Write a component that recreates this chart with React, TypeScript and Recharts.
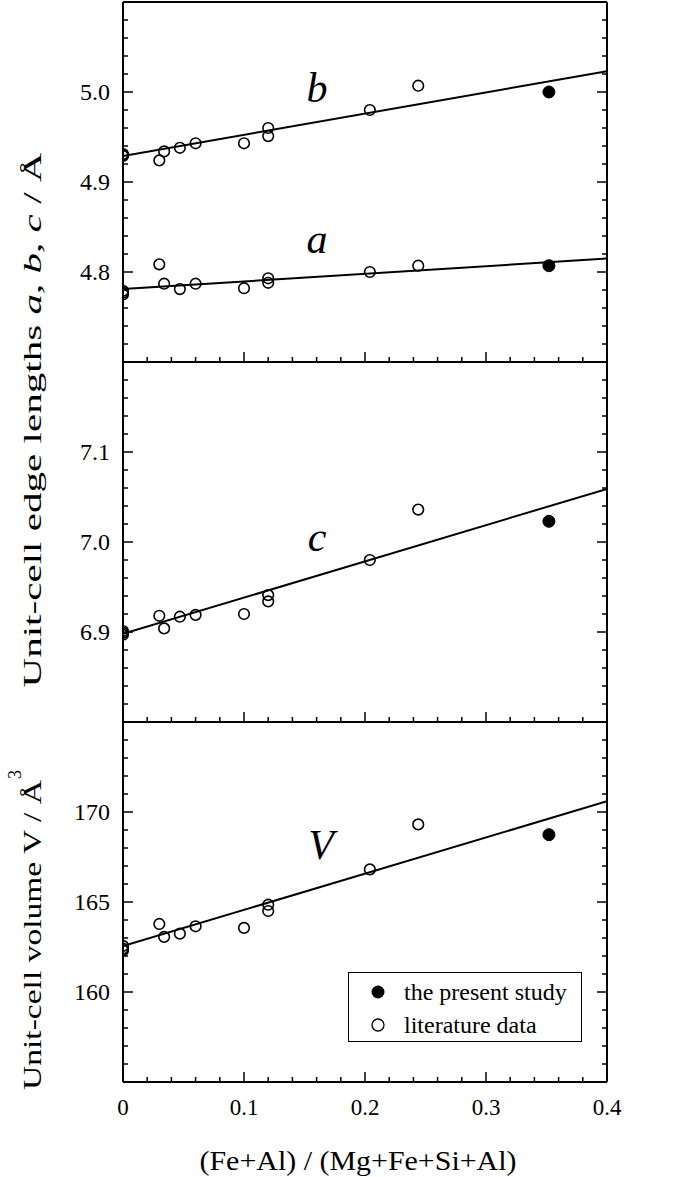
import React from "react";
import { ComposedChart, Scatter, Line, XAxis, YAxis, Legend } from "recharts";

const FONT = "'Liberation Serif', 'Times New Roman', serif";

// (Fe+Al) / (Mg+Fe+Si+Al) of the literature samples
const litX = [0, 0, 0, 0.03, 0.034, 0.047, 0.06, 0.1, 0.12, 0.12, 0.204, 0.244];
const litA = [4.775, 4.777, 4.779, 4.8085, 4.787, 4.781, 4.787, 4.782, 4.793, 4.788, 4.8, 4.807];
const litB = [4.929, 4.93, 4.931, 4.924, 4.934, 4.938, 4.943, 4.943, 4.96, 4.951, 4.98, 5.007];
const litC = [6.897, 6.899, 6.901, 6.918, 6.904, 6.917, 6.919, 6.92, 6.941, 6.934, 6.98, 7.036];
const litV = [162.31, 162.41, 162.56, 163.78, 163.06, 163.24, 163.65, 163.56, 164.85, 164.5, 166.81, 169.31];

// the present study
const presentX = [0.352];
const presentA = [4.807];
const presentB = [5.0];
const presentC = [7.023];
const presentV = [168.74];

// linear fits (end points)
const fitX = [0, 0.4];
const fitA = [4.781, 4.815];
const fitB = [4.929, 5.023];
const fitC = [6.898, 7.059];
const fitV = [162.55, 170.6];

// ticks
const xMajor = [0, 0.1, 0.2, 0.3, 0.4];
const xMinor = [0.02, 0.04, 0.06, 0.08, 0.12, 0.14, 0.16, 0.18, 0.22, 0.24, 0.26, 0.28, 0.32, 0.34, 0.36, 0.38];
const abMajor = [4.8, 4.9, 5.0];
const abMinor = [4.72, 4.74, 4.76, 4.78, 4.82, 4.84, 4.86, 4.88, 4.92, 4.94, 4.96, 4.98, 5.02, 5.04, 5.06, 5.08];
const cMajor = [6.9, 7.0, 7.1];
const cMinor = [6.82, 6.84, 6.86, 6.88, 6.92, 6.94, 6.96, 6.98, 7.02, 7.04, 7.06, 7.08, 7.12, 7.14, 7.16, 7.18];
const vMajor = [160, 165, 170];
const vMinor = [156, 157, 158, 159, 161, 162, 163, 164, 166, 167, 168, 169, 171, 172, 173, 174];

const MAJOR_LEN = 10;
const MINOR_LEN = 5;

const pts = (xs: number[], ys: number[]) => xs.map((x, i) => ({ x, y: ys[i] }));

const OpenDot = (p: any) => (
  <circle cx={p.cx} cy={p.cy} r={5.3} fill="none" stroke="#000" strokeWidth={1.6} />
);
const FilledDot = (p: any) => <circle cx={p.cx} cy={p.cy} r={6} fill="#000" stroke="#000" />;

// inward-pointing tick (with optional label); tickSize/tickMargin are 0 so p.x/p.y sit on the axis line
const makeTick =
  (side: "left" | "right" | "top" | "bottom", major: number[], fmt?: (v: number) => string) =>
  (p: any) => {
    const v = p.payload.value;
    const isMajor = major.includes(v);
    const len = isMajor ? MAJOR_LEN : MINOR_LEN;
    const { x, y } = p;
    const line =
      side === "left" ? [x, y, x + len, y] :
      side === "right" ? [x, y, x - len, y] :
      side === "top" ? [x, y, x, y + len] : [x, y, x, y - len];
    return (
      <g>
        <line x1={line[0]} y1={line[1]} x2={line[2]} y2={line[3]} stroke="#000" strokeWidth={1.5} />
        {isMajor && fmt && side === "left" && (
          <text x={x - 13} y={y} dy="0.35em" textAnchor="end" fontFamily={FONT} fontSize={24} fill="#000">
            {fmt(v)}
          </text>
        )}
        {isMajor && fmt && side === "bottom" && (
          <text x={x} y={y + 33} textAnchor="middle" fontFamily={FONT} fontSize={23} fill="#000">
            {fmt(v)}
          </text>
        )}
      </g>
    );
  };

const LegendBox = ({ payload }: any) => {
  const items = (payload || [])
    .filter((e: any) => e.type !== "none")
    .sort((p: any, q: any) => (p.value === "the present study" ? -1 : q.value === "the present study" ? 1 : 0));
  return (
    <div
      style={{
        width: 234,
        height: 70,
        border: "1.5px solid #000",
        boxSizing: "border-box",
        position: "relative",
        background: "#fff",
        fontFamily: FONT,
        fontSize: 24,
      }}
    >
      {items.map((e: any, i: number) => (
        <div
          key={i}
          style={{ position: "absolute", left: 0, top: 4 + i * 33, height: 30, display: "flex", alignItems: "center", whiteSpace: "nowrap" }}
        >
          <svg width={55} height={30}>
            {e.value === "the present study" ? (
              <circle cx={29} cy={15} r={6.5} fill="#000" />
            ) : (
              <circle cx={29} cy={15} r={6} fill="none" stroke="#000" strokeWidth={1.3} />
            )}
          </svg>
          <span style={{ lineHeight: "30px" }}>{e.value}</span>
        </div>
      ))}
    </div>
  );
};

type Series = { lit: number[]; present: number[]; fit: number[] };

const xFmt = (v: number) => (v === 0 ? "0" : v.toFixed(1));

const Panel = ({
  top,
  height,
  mTop,
  mBottom,
  domain,
  major,
  minor,
  fmt,
  series,
  bottomLabels,
  legend,
}: {
  top: number;
  height: number;
  mTop: number;
  mBottom: number;
  domain: [number, number];
  major: number[];
  minor: number[];
  fmt: (v: number) => string;
  series: Series[];
  bottomLabels?: boolean;
  legend?: boolean;
}) => {
  const xTicks = [...xMajor, ...xMinor].sort((p, q) => p - q);
  const yTicks = [...major, ...minor].sort((p, q) => p - q);
  const common = {
    type: "number" as const,
    allowDataOverflow: true,
    interval: 0 as const,
    stroke: "#000",
    axisLine: { strokeWidth: 2 },
    tickLine: false,
    tickSize: 0,
    tickMargin: 0,
  };
  return (
    <div style={{ position: "absolute", left: 0, top }}>
      {/* each axis takes 1px; margins are reduced by 1px per side to compensate */}
      <ComposedChart width={685} height={height} margin={{ top: mTop - 1, right: 77, bottom: mBottom - 1, left: 122 }}>
        <XAxis {...common} xAxisId={0} dataKey="x" domain={[0, 0.4]} ticks={xTicks} height={1}
          tick={makeTick("bottom", xMajor, bottomLabels ? xFmt : undefined)} />
        <XAxis {...common} xAxisId="t" orientation="top" domain={[0, 0.4]} ticks={xTicks} height={1}
          tick={makeTick("top", xMajor)} />
        <YAxis {...common} yAxisId={0} dataKey="y" domain={domain} ticks={yTicks} width={1}
          tick={makeTick("left", major, fmt)} />
        <YAxis {...common} yAxisId="r" orientation="right" domain={domain} ticks={yTicks} width={1}
          tick={makeTick("right", major)} />
        {series.map((s, i) => (
          <Line
            key={`fit-${i}`}
            data={pts(fitX, s.fit)}
            dataKey="y"
            type="linear"
            stroke="#000"
            strokeWidth={2}
            dot={false}
            activeDot={false}
            legendType="none"
            isAnimationActive={false}
          />
        ))}
        {series.map((s, i) => (
          <Scatter
            key={`pres-${i}`}
            name="the present study"
            data={pts(presentX, s.present)}
            dataKey="y"
            fill="#000"
            shape={FilledDot}
            legendType={i === 0 ? "circle" : "none"}
            isAnimationActive={false}
          />
        ))}
        {series.map((s, i) => (
          <Scatter
            key={`lit-${i}`}
            name="literature data"
            data={pts(litX, s.lit)}
            dataKey="y"
            fill="none"
            shape={OpenDot}
            legendType={i === 0 ? "circle" : "none"}
            isAnimationActive={false}
          />
        ))}
        {legend && (
          <Legend
            layout="horizontal"
            verticalAlign="middle"
            align="center"
            content={<LegendBox />}
            wrapperStyle={{ left: 348, top: 260, width: 234, height: 70 }}
          />
        )}
      </ComposedChart>
    </div>
  );
};

const Letter = ({ x, y, t }: { x: number; y: number; t: string }) => (
  <text x={x} y={y} textAnchor="middle" fontFamily={FONT} fontStyle="italic" fontSize={42} fill="#000">
    {t}
  </text>
);

export default function App() {
  return (
    <div style={{ position: "absolute", left: 0, top: 0, width: 685, height: 1177, background: "#fff" }}>
      <Panel
        top={0}
        height={372}
        mTop={2}
        mBottom={10}
        domain={[4.7, 5.1]}
        major={abMajor}
        minor={abMinor}
        fmt={(v) => v.toFixed(1)}
        series={[
          { lit: litB, present: presentB, fit: fitB },
          { lit: litA, present: presentA, fit: fitA },
        ]}
      />
      <Panel
        top={352}
        height={380}
        mTop={10}
        mBottom={10}
        domain={[6.8, 7.2]}
        major={cMajor}
        minor={cMinor}
        fmt={(v) => v.toFixed(1)}
        series={[{ lit: litC, present: presentC, fit: fitC }]}
      />
      <Panel
        top={712}
        height={465}
        mTop={10}
        mBottom={95}
        domain={[155, 175]}
        major={vMajor}
        minor={vMinor}
        fmt={(v) => String(v)}
        series={[{ lit: litV, present: presentV, fit: fitV }]}
        bottomLabels
        legend
      />
      <svg
        width={685}
        height={1177}
        style={{ position: "absolute", left: 0, top: 0, pointerEvents: "none" }}
        fontFamily={FONT}
      >
        <Letter x={317} y={102} t="b" />
        <Letter x={317} y={253} t="a" />
        <Letter x={317} y={551} t="c" />
        <Letter x={321} y={859} t="V" />
        <text
          transform="translate(41,420) rotate(-90)"
          textAnchor="middle"
          fontSize={25}
          fill="#000"
          textLength={535}
          lengthAdjust="spacingAndGlyphs"
        >
          Unit-cell edge lengths <tspan fontStyle="italic">a</tspan>, <tspan fontStyle="italic">b</tspan>,{" "}
          <tspan fontStyle="italic">c</tspan> / Å
        </text>
        <text
          transform="translate(41,935) rotate(-90)"
          textAnchor="middle"
          fontSize={25}
          fill="#000"
          textLength={310}
          lengthAdjust="spacingAndGlyphs"
        >
          Unit-cell volume V / Å
        </text>
        <text transform="translate(21,779) rotate(-90)" fontSize={18} fill="#000">
          3
        </text>
        <text
          x={358}
          y={1170}
          textAnchor="middle"
          fontSize={27}
          fill="#000"
          textLength={317}
          lengthAdjust="spacingAndGlyphs"
        >
          (Fe+Al) / (Mg+Fe+Si+Al)
        </text>
      </svg>
    </div>
  );
}
